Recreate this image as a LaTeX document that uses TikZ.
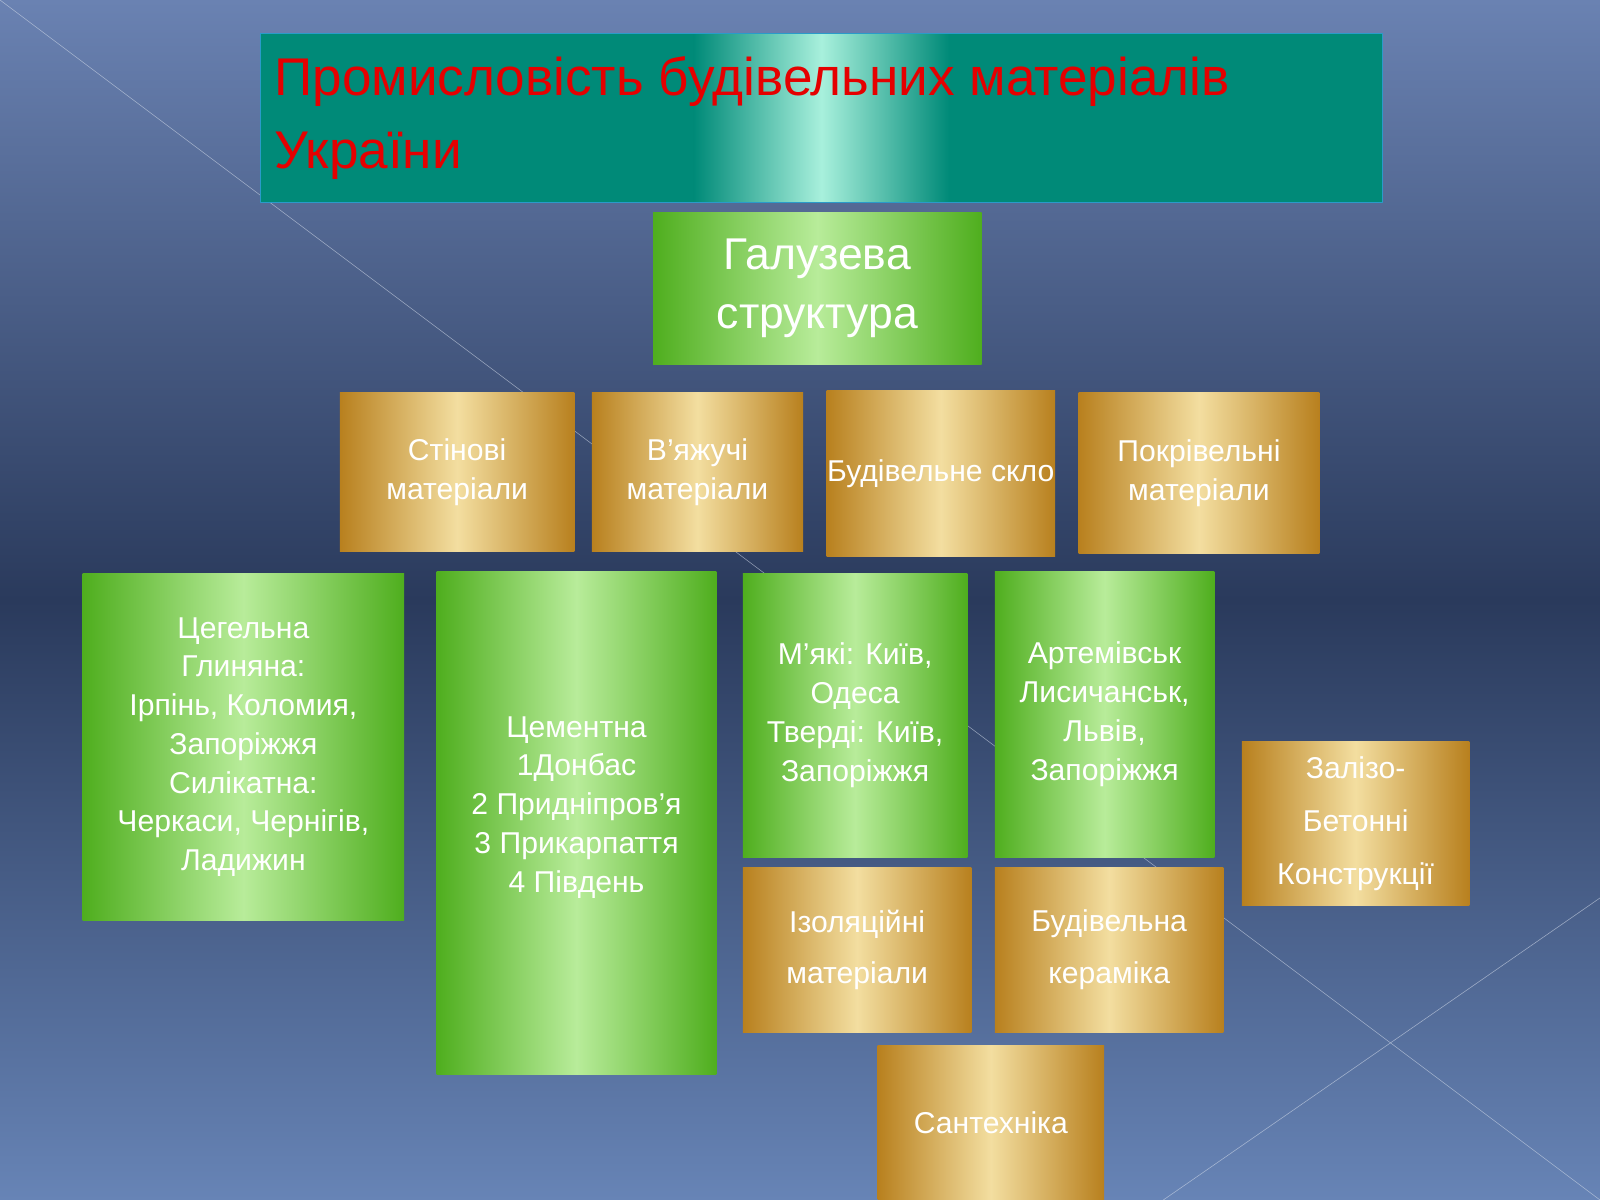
\documentclass[tikz,border=0pt]{standalone}
\usepackage{fontspec}
\setmainfont{Liberation Sans}
\definecolor{goldedge}{HTML}{B8801E}
\definecolor{goldmid}{HTML}{F3DEA0}
\definecolor{greenedge}{HTML}{4FAE1E}
\definecolor{greenmid}{HTML}{B8EC9A}
\definecolor{tealedge}{HTML}{008A78}
\definecolor{tealmid}{HTML}{A8F0DC}
\definecolor{bgtop}{HTML}{6A82B2}
\definecolor{bgmid}{HTML}{2A3A5C}
\definecolor{bgbot}{HTML}{6784B6}
\tikzset{
  goldbox/.style={draw=none, left color=goldedge, right color=goldedge, middle color=goldmid},
  greenbox/.style={draw=none, left color=greenedge, right color=greenedge, middle color=greenmid},
  boxtext/.style={text=white, align=center, font=\fontsize{21}{27}\selectfont},
}
\newcommand{\tbox}[7]{\path[#1] (#3,#4) rectangle (#5,#6); \node[boxtext, #2] at ({(#3+#5)/2},{(#4+#6)/2}) {#7};}
\begin{document}
\begin{tikzpicture}[x=0.025cm, y=-0.025cm, line join=round, line cap=round]
  \shade[top color=bgtop, bottom color=bgbot, middle color=bgmid] (0,0) rectangle (1568,1176);
  \useasboundingbox (0,0) rectangle (1568,1176);
  \draw[white!70!bgtop, opacity=0.6] (0,0) -- (1568,1176);
  \draw[white!70!bgtop, opacity=0.6] (1140,1176) -- (1568,880);
  % title
  \path[fill=tealedge] (255,33) rectangle (1355,198);
  \path[left color=tealedge, right color=tealedge, middle color=tealmid] (680,33) rectangle (930,198);
  \draw[cyan!60!teal] (255,33) rectangle (1355,198);
  \node[anchor=north west, text=red!90!black, align=left, font=\fontsize{37}{51}\selectfont] at (264,50) {Промисловість будівельних матеріалів\\України};
  % head
  \tbox{greenbox}{font=\fontsize{31}{41}\selectfont}{640}{208}{962}{357}{Галузева\\структура}
  % branches
  \tbox{goldbox}{}{333}{385}{563}{540}{Стінові\\матеріали}
  \tbox{goldbox}{}{580}{385}{787}{540}{В'яжучі\\матеріали}
  \tbox{goldbox}{}{810}{383}{1034}{545}{Будівельне скло}
  \tbox{goldbox}{}{1057}{385}{1293}{542}{Покрівельні\\матеріали}
  % details
  \tbox{greenbox}{}{81}{562}{396}{902}{Цегельна\\Глиняна:\\Ірпінь, Коломия,\\Запоріжжя\\Силікатна:\\Черкаси, Чернігів,\\Ладижин}
  \tbox{greenbox}{yshift=11}{428}{560}{702}{1053}{Цементна\\1Донбас\\2 Придніпров'я\\3 Прикарпаття\\4 Південь}
  \tbox{greenbox}{}{728}{562}{948}{840}{М'які: Київ,\\Одеса\\Тверді: Київ,\\Запоріжжя}
  \tbox{greenbox}{}{975}{560}{1190}{840}{Артемівськ\\Лисичанськ,\\Львів,\\Запоріжжя}
  \tbox{goldbox}{font=\fontsize{21}{37}\selectfont}{1217}{727}{1440}{887}{Залізо-\\Бетонні\\Конструкції}
  \tbox{goldbox}{font=\fontsize{21}{36}\selectfont}{728}{850}{952}{1012}{Ізоляційні\\матеріали}
  \tbox{goldbox}{font=\fontsize{21}{36}\selectfont}{975}{850}{1199}{1012}{Будівельна\\кераміка}
  \tbox{goldbox}{}{860}{1025}{1082}{1176}{Сантехніка}
\end{tikzpicture}
\end{document}
